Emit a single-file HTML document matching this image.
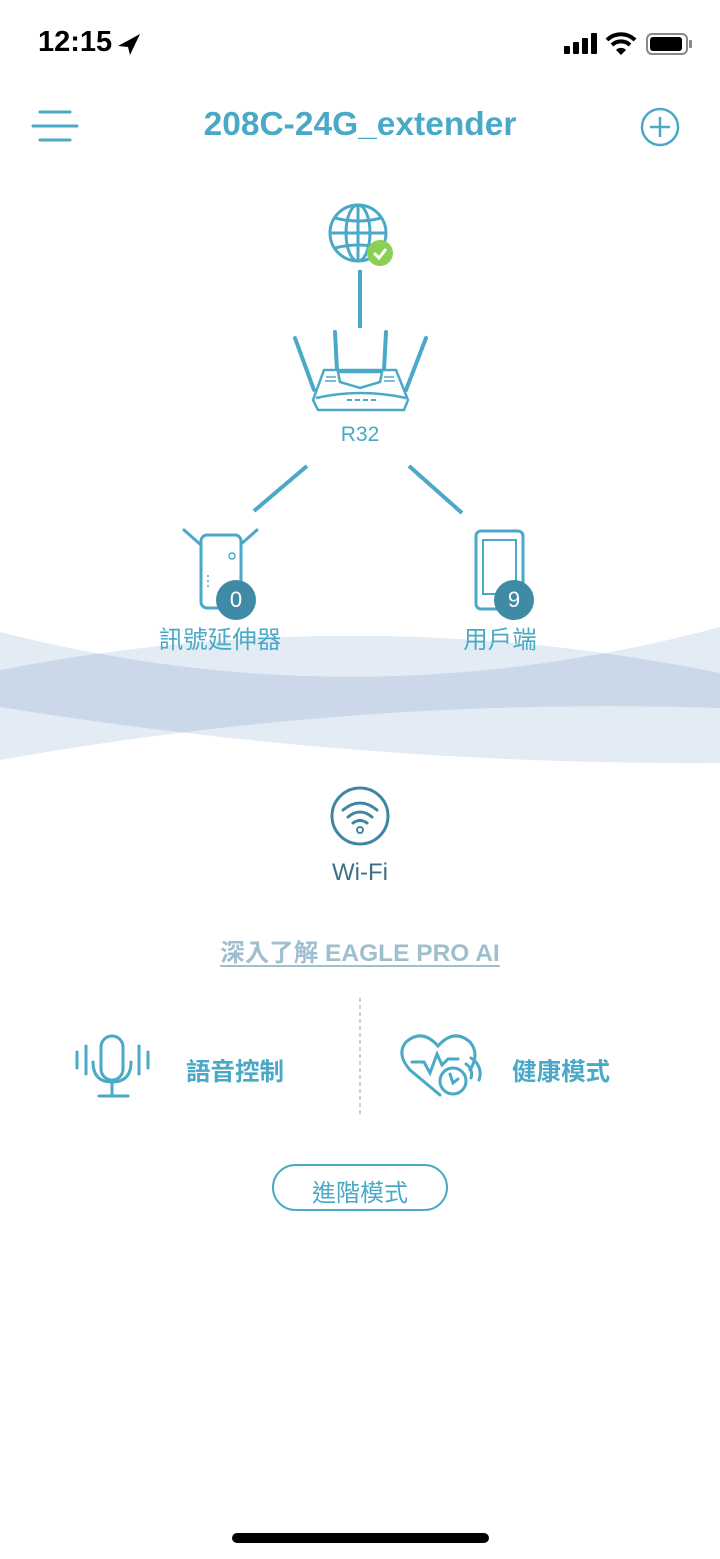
<!DOCTYPE html>
<html><head><meta charset="utf-8"><style>
html,body{margin:0;padding:0;width:720px;height:1559px;background:#fff;overflow:hidden;font-family:"Liberation Sans","Noto Sans CJK TC",sans-serif;}
.abs{position:absolute}
.mb{mix-blend-mode:multiply}
</style></head><body>
<svg class="abs" style="left:0;top:0" width="720" height="1559" viewBox="0 0 720 1559">
<rect width="720" height="1559" fill="#fff"/>
<path d="M118 46 L140 34 L130 55 L128 47 Z" fill="#000"/>
<rect x="564" y="46" width="6" height="8" rx="1" fill="#000"/><rect x="573" y="42" width="6" height="12" rx="1" fill="#000"/><rect x="582" y="38" width="6" height="16" rx="1" fill="#000"/><rect x="591" y="33" width="6" height="21" rx="1" fill="#000"/>
<path d="M607 40 A20 20 0 0 1 635 40" stroke="#000" stroke-width="4" fill="none"/>
<path d="M612 45 A13 13 0 0 1 630 45" stroke="#000" stroke-width="4" fill="none"/>
<path d="M616 50 L621 55 L626 50 A7 7 0 0 0 616 50Z" fill="#000"/>
<rect x="647" y="34" width="40" height="20" rx="5" stroke="#888" stroke-width="2" fill="none"/>
<rect x="650" y="37" width="32" height="14" rx="3" fill="#000"/>
<rect x="689" y="40" width="3" height="8" rx="1" fill="#888"/>
<g stroke="#4aa9c7" stroke-width="3" stroke-linecap="round"><line x1="40" y1="112" x2="70" y2="112"/><line x1="33" y1="126" x2="77" y2="126"/><line x1="40" y1="140" x2="70" y2="140"/></g>
<circle cx="660" cy="127" r="18" stroke="#4aa9c7" stroke-width="2.5" fill="none"/>
<g stroke="#4aa9c7" stroke-width="2.5"><line x1="660" y1="117" x2="660" y2="137"/><line x1="650" y1="127" x2="670" y2="127"/></g>
<g stroke="#4aa9c7" stroke-width="3" fill="none">
<circle cx="358" cy="233" r="28"/><ellipse cx="358" cy="233" rx="12" ry="28"/>
<line x1="358" y1="205" x2="358" y2="261"/><line x1="330" y1="233" x2="386" y2="233"/>
<path d="M335 218 Q358 224 381 218"/><path d="M335 248 Q358 242 381 248"/>
</g>
<circle cx="380" cy="253" r="13" fill="#8ccf55"/>
<path d="M374 253 L379 258 L386 249" stroke="#fff" stroke-width="3" fill="none"/>
<line x1="360" y1="270" x2="360" y2="328" stroke="#4aa9c7" stroke-width="4"/>
<g stroke="#4aa9c7" stroke-width="4" fill="none" stroke-linecap="round">
<line x1="295" y1="338" x2="314" y2="390"/><line x1="426" y1="338" x2="406" y2="390"/>
<line x1="335" y1="332" x2="337" y2="370"/><line x1="386" y1="332" x2="384" y2="370"/>
</g>
<g stroke="#4aa9c7" stroke-width="2.5" fill="#fff">
<path d="M324 370 L396 370 L408 400 L404 410 L318 410 L313 400 Z"/>
<path d="M338 372 L382 372 L380 382 L360 388 L340 382 Z" fill="none"/>
<path d="M316 398 Q360 388 406 398" fill="none"/>
</g>
<g stroke="#4aa9c7" stroke-width="1.5"><line x1="326" y1="377" x2="336" y2="377"/><line x1="325" y1="381" x2="336" y2="381"/><line x1="384" y1="377" x2="394" y2="377"/><line x1="384" y1="381" x2="395" y2="381"/></g>
<g fill="#4aa9c7"><rect x="347" y="399" width="5" height="2"/><rect x="355" y="399" width="5" height="2"/><rect x="363" y="399" width="5" height="2"/><rect x="371" y="399" width="5" height="2"/></g>
<g stroke="#4aa9c7" stroke-width="4"><line x1="307" y1="466" x2="254" y2="511"/><line x1="409" y1="466" x2="462" y2="513"/></g>
<path class="mb" d="M0 632 Q360 724 720 627 L720 763 Q360 765 0 707 Z" fill="#e3ebf4"/>
<path class="mb" d="M0 670 Q360 600 720 673 L720 708 Q360 696 0 760 Z" fill="#e3ebf4"/>
<g stroke="#4aa9c7" stroke-width="3" fill="#fff" stroke-linecap="round">
<line x1="184" y1="530" x2="201" y2="545"/><line x1="257" y1="530" x2="240" y2="545"/>
<rect x="201" y="535" width="40" height="73" rx="6"/>
</g>
<circle cx="232" cy="556" r="3" stroke="#4aa9c7" stroke-width="1.5" fill="none"/>
<line x1="208" y1="575" x2="208" y2="590" stroke="#4aa9c7" stroke-width="1.5" stroke-dasharray="2 3"/>
<circle cx="236" cy="600" r="20" fill="#3f8aa4"/>
<rect x="476" y="531" width="47" height="78" rx="5" stroke="#4aa9c7" stroke-width="3" fill="#fff"/>
<rect x="483" y="540" width="33" height="54" stroke="#4aa9c7" stroke-width="2" fill="none"/>
<circle cx="514" cy="600" r="20" fill="#3f8aa4"/>
<circle cx="360" cy="816" r="28" stroke="#3f86a3" stroke-width="3" fill="none"/>
<g stroke="#3f86a3" stroke-width="3" fill="none" stroke-linecap="round">
<path d="M343 810 Q360 796 377 810"/><path d="M348 817 Q360 807 372 817"/><path d="M353 823 Q360 818 367 823"/>
</g>
<circle cx="360" cy="830" r="3" stroke="#3f86a3" stroke-width="2" fill="none"/>
<line x1="360" y1="998" x2="360" y2="1116" stroke="#a9c6d0" stroke-width="1.5" stroke-dasharray="4 3"/>
<g stroke="#4aa9c7" stroke-width="3" fill="none" stroke-linecap="round">
<rect x="101" y="1036" width="22" height="44" rx="11"/>
<path d="M93 1062 Q93 1082 112 1082 Q131 1082 131 1062"/>
<line x1="112" y1="1082" x2="112" y2="1096"/><line x1="99" y1="1096" x2="128" y2="1096"/>
<line x1="77" y1="1052" x2="77" y2="1068"/><line x1="86" y1="1046" x2="86" y2="1074"/><line x1="139" y1="1046" x2="139" y2="1074"/><line x1="148" y1="1052" x2="148" y2="1068"/>
</g>
<g stroke="#4aa9c7" stroke-width="3" fill="none" stroke-linecap="round">
<path d="M440 1095 L410 1070 Q396 1054 406 1042 Q422 1028 438 1046 Q454 1028 470 1042 Q480 1054 470 1070"/>
<path d="M412 1062 L424 1062 L430 1073 L437 1054 L442 1065 L448 1059 L458 1059"/>
<circle cx="453" cy="1081" r="13" fill="#fff"/>
<path d="M450 1074 L453 1083 L458 1079"/>
<path d="M466 1064 A12 12 0 0 1 471 1078"/><path d="M471 1058 A18 18 0 0 1 479 1080"/>
</g>
<rect x="273" y="1165" width="174" height="45" rx="22.5" stroke="#4aa9c7" stroke-width="2" fill="#fff"/>
<rect x="232" y="1533" width="257" height="10" rx="5" fill="#000"/>
</svg>
<div class="abs" style="left:38px;top:26px;font-size:29px;font-weight:600;color:#000">12:15</div>
<div class="abs" style="left:0;width:720px;top:106px;text-align:center;font-size:33.5px;font-weight:bold;color:#4aa9c7">208C-24G_extender</div>
<div class="abs" style="left:0;width:720px;top:423px;text-align:center;font-size:21px;color:#4aa9c7">R32</div>
<div class="abs" style="left:221px;top:587px;width:30px;text-align:center;font-size:22px;color:#fff">0</div>
<div class="abs" style="left:499px;top:587px;width:30px;text-align:center;font-size:22px;color:#fff">9</div>
<div class="abs" style="left:120px;width:200px;top:621px;text-align:center;font-size:24.5px;color:#4aa9c7">訊號延伸器</div>
<div class="abs" style="left:400px;width:200px;top:621px;text-align:center;font-size:24.5px;color:#4aa9c7">用戶端</div>
<div class="abs" style="left:0;width:720px;top:859px;text-align:center;font-size:24px;color:#3f6f86">Wi-Fi</div>
<div class="abs" style="left:0;width:720px;top:934px;text-align:center;font-size:24.5px;font-weight:bold;color:#9fbfcf;"><span style="text-decoration:underline;text-underline-offset:4px">深入了解 EAGLE PRO AI</span></div>
<div class="abs" style="left:186px;top:1053px;font-size:24.5px;font-weight:bold;color:#4aa9c7">語音控制</div>
<div class="abs" style="left:512px;top:1053px;font-size:24.5px;font-weight:bold;color:#4aa9c7">健康模式</div>
<div class="abs" style="left:273px;width:174px;top:1173px;text-align:center;font-size:24px;color:#4aa9c7">進階模式</div>
</body></html>
